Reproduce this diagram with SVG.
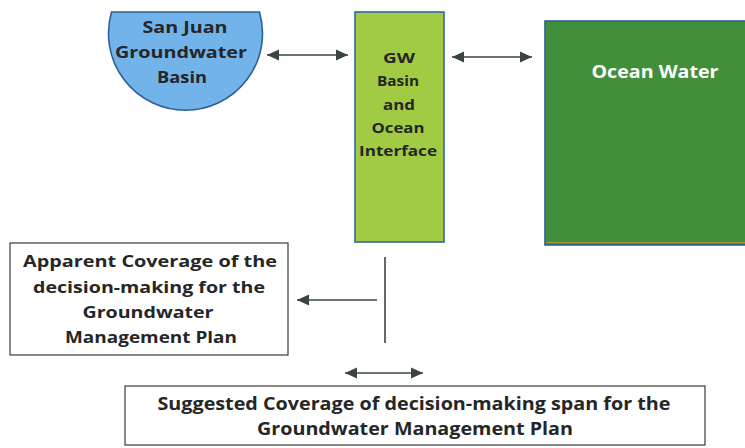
<svg xmlns="http://www.w3.org/2000/svg" width="745" height="448" viewBox="0 0 745 448">
  <style>
    .lbl { font-family: "Open Sans", "Liberation Sans", Arial, sans-serif; font-weight: bold; text-anchor: middle; fill: #262626; }
    .big { font-size: 17.5px; }
    .mid { font-size: 16.5px; }
    .small { font-size: 14.5px; }
    .white { fill: #ffffff; }
    .frame { fill: #ffffff; stroke: #3a3a3a; stroke-width: 1.2; }
    .conn { fill: none; stroke: #3b4444; stroke-width: 1.6; }
  </style>
  <defs>
    <marker id="head" markerUnits="userSpaceOnUse" markerWidth="14" markerHeight="12" refX="12" refY="6" orient="auto-start-reverse">
      <path d="M0,0.5 L12,6 L0,11.5 Z" fill="#3b4444"/>
    </marker>
  </defs>

  <rect width="745" height="448" fill="#ffffff"/>

  <!-- San Juan basin: circular segment with flat top -->
  <g id="san-juan-basin">
    <path d="M259.5,12 A77,77 0 1 1 111.5,12 Z" fill="#72b3ea" stroke="#2f5f9a" stroke-width="1.6"/>
    <text class="lbl mid" x="185" y="33" textLength="85" lengthAdjust="spacingAndGlyphs">San Juan</text>
    <text class="lbl mid" x="181" y="58" textLength="132" lengthAdjust="spacingAndGlyphs">Groundwater</text>
    <text class="lbl mid" x="182" y="83" textLength="50" lengthAdjust="spacingAndGlyphs">Basin</text>
  </g>

  <!-- Interface column -->
  <g id="gw-interface">
    <rect x="355" y="12" width="89" height="230" fill="#a0cb42" stroke="#2d68a8" stroke-width="1.6"/>
    <text class="lbl small" x="399" y="63" textLength="32" lengthAdjust="spacingAndGlyphs">GW</text>
    <text class="lbl small" x="398" y="86" textLength="42" lengthAdjust="spacingAndGlyphs">Basin</text>
    <text class="lbl small" x="399" y="110" textLength="32" lengthAdjust="spacingAndGlyphs">and</text>
    <text class="lbl small" x="398" y="133" textLength="53" lengthAdjust="spacingAndGlyphs">Ocean</text>
    <text class="lbl small" x="398" y="156" textLength="78" lengthAdjust="spacingAndGlyphs">Interface</text>
  </g>

  <!-- Ocean block, runs off the right edge -->
  <g id="ocean-water">
    <rect x="545" y="21" width="220" height="224" fill="#418f3b" stroke="#2f5f9a" stroke-width="1.6"/>
    <line x1="546" y1="242.5" x2="745" y2="242.5" stroke="#a89a3c" stroke-width="1"/>
    <text class="lbl big white" x="655" y="78" textLength="127" lengthAdjust="spacingAndGlyphs">Ocean Water</text>
  </g>

  <!-- Apparent coverage box -->
  <g id="apparent-coverage">
    <rect class="frame" x="10" y="243" width="278" height="112"/>
    <text class="lbl mid" x="150" y="267" textLength="254" lengthAdjust="spacingAndGlyphs">Apparent Coverage of the</text>
    <text class="lbl mid" x="149" y="293" textLength="232" lengthAdjust="spacingAndGlyphs">decision-making for the</text>
    <text class="lbl mid" x="148" y="318" textLength="131" lengthAdjust="spacingAndGlyphs">Groundwater</text>
    <text class="lbl mid" x="151" y="343" textLength="172" lengthAdjust="spacingAndGlyphs">Management Plan</text>
  </g>

  <!-- Suggested coverage box -->
  <g id="suggested-coverage">
    <rect class="frame" x="125" y="386" width="580" height="59"/>
    <text class="lbl big" x="414" y="410" textLength="513" lengthAdjust="spacingAndGlyphs">Suggested Coverage of decision-making span for the</text>
    <text class="lbl big" x="415" y="435" textLength="316" lengthAdjust="spacingAndGlyphs">Groundwater Management Plan</text>
  </g>

  <!-- Connectors -->
  <g id="connectors">
    <line class="conn" x1="267" y1="55" x2="348" y2="55" marker-start="url(#head)" marker-end="url(#head)"/>
    <line class="conn" x1="452" y1="57" x2="532" y2="57" marker-start="url(#head)" marker-end="url(#head)"/>
    <line class="conn" x1="385" y1="257" x2="385" y2="343" stroke-width="1.3"/>
    <line class="conn" x1="377" y1="300" x2="297" y2="300" marker-end="url(#head)"/>
    <line class="conn" x1="345" y1="373" x2="423" y2="373" marker-start="url(#head)" marker-end="url(#head)"/>
  </g>
</svg>
